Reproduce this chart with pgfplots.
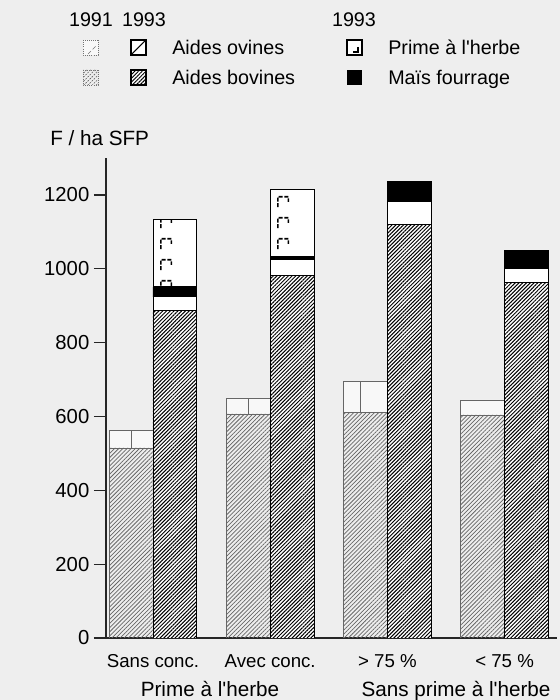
\documentclass[border=0pt]{standalone}
\usepackage{pgfplots}
\pgfplotsset{compat=1.18}
\usepackage{fontspec}
\setmainfont{Liberation Sans}[Ligatures=TeXOff]
\usetikzlibrary{patterns.meta}
\definecolor{bg}{HTML}{EEEEEE}
\newcommand\px[1]{#1*0.75pt}
\newcommand\py[1]{525pt-#1*0.75pt}
\tikzdeclarepattern{
  name=bracket,
  type=uncolored,
  bounding box={(0pt,0pt) and (88.1pt,16pt)},
  tile size={(88.1pt,16pt)},
  code={\draw[line width=1.2pt, dash pattern=on 3pt off 1.3pt] (33pt,3pt) -- (33pt,11pt) -- (41pt,11pt) -- (41pt,7pt);}
}
\pgfplotsset{geom/.style={
  scale only axis, width=338.25pt, height=360pt,
  anchor=south west, at={(79.5pt,46.5pt)},
  xmin=-0.401, xmax=3.447, ymin=0, ymax=1300,
}, base/.style={geom, ybar stacked, bar width=0.3745}}
\begin{document}
\begin{tikzpicture}
\path[use as bounding box, fill=bg] (0,0) rectangle (420pt,525pt);
\begin{axis}[base,
  axis x line*=bottom, axis y line*=left,
  axis line style={-, line width=0.9pt, black!85},
  ytick={0,200,...,1200}, xtick={0,1,2,3},
  xticklabels={Sans conc., Avec conc., {> 75 \%}, {< 75 \%}},
  xtick style={draw=none},
  ytick style={line width=0.9pt, black!85},
  major tick length=9pt, tick align=outside,
  yticklabel style={font=\fontsize{15.2}{18}\selectfont},
  xticklabel style={font=\fontsize{14}{17}\selectfont},
  /pgf/number format/assume math mode=true,
  /pgf/number format/1000 sep={},
  bar shift=-0.187,
]
% 1991 : aides bovines
\addplot[draw=black!60, line width=0.5pt,
  pattern={Lines[angle=45,distance=2.2pt,line width=0.55pt]}, pattern color=black!60]
  coordinates {(0,515) (1,607) (2,610) (3,604)};
% 1991 : aides ovines
\addplot[draw=black!60, line width=0.5pt, fill=white!60!bg]
  coordinates {(0,48) (1,43) (2,84) (3,41)};
\end{axis}
% dividers inside the 1991 "ovines" boxes
\begin{axis}[geom, hide axis]
\addplot[draw=none, mark=none, error bars/.cd, y dir=plus, y explicit,
  error mark=none, error bar style={black!60, line width=0.6pt}]
  coordinates {(-0.187,515) +- (0,48) (0.813,607) +- (0,43) (1.77,610) +- (0,84)};
\end{axis}
\begin{axis}[base, hide axis, bar shift=0.187]
% 1993 : aides bovines
\addplot[draw=black, line width=0.7pt, preaction={fill=white},
  pattern={Lines[angle=45,distance=2pt,line width=0.75pt]}, pattern color=black]
  coordinates {(0,886) (1,981) (2,1119) (3,962)};
% 1993 : aides ovines
\addplot[draw=black, line width=0.7pt, fill=white]
  coordinates {(0,38) (1,43) (2,63) (3,38)};
% 1993 : mais fourrage
\addplot[draw=black, line width=0.7pt, fill=black]
  coordinates {(0,27) (1,8) (2,54) (3,49)};
% 1993 : prime a l'herbe
\addplot[draw=black, line width=0.7pt, preaction={fill=white},
  pattern=bracket, pattern color=black]
  coordinates {(0,182) (1,182) (2,0) (3,0)};
\end{axis}
% y label
\node[anchor=base west, inner sep=0, font=\fontsize{15.5}{18}\selectfont] at (\px{50},\py{146}) {F / ha SFP};
% group labels
\node[anchor=base, inner sep=0, font=\fontsize{15.5}{18}\selectfont] at (\px{210},\py{697}) {Prime à l'herbe};
\node[anchor=base, inner sep=0, font=\fontsize{15.5}{18}\selectfont] at (\px{456},\py{697}) {Sans prime à l'herbe};
% legend
\begin{scope}[every node/.style={inner sep=0, font=\fontsize{14.8}{17}\selectfont}]
\node[anchor=base] at (\px{91},\py{27}) {1991};
\node[anchor=base] at (\px{144},\py{27}) {1993};
\node[anchor=base] at (\px{354},\py{27}) {1993};
\node[anchor=base west] at (\px{172},\py{55}) {Aides ovines};
\node[anchor=base west] at (\px{172},\py{85}) {Aides bovines};
\node[anchor=base west] at (\px{388},\py{55}) {Prime à l'herbe};
\node[anchor=base west] at (\px{388},\py{85}) {Maïs fourrage};
\end{scope}
\draw[black!55, densely dotted, line width=0.6pt, fill=white!60!bg] (\px{83},\py{40}) rectangle (\px{98},\py{55});
\draw[black!55, densely dashed, line width=0.5pt] (\px{88},\py{54}) -- (\px{96},\py{46});
\draw[black!55, densely dotted, line width=0.6pt, pattern={Lines[angle=45,distance=2.2pt,line width=0.55pt]}, pattern color=black!60] (\px{83},\py{70}) rectangle (\px{98},\py{85});
\draw[black, line width=0.8pt, fill=white] (\px{131},\py{40}) rectangle (\px{146},\py{55});
\draw[black, line width=0.8pt] (\px{131},\py{55}) -- (\px{146},\py{40});
\draw[black, line width=0.8pt, preaction={fill=white}, pattern={Lines[angle=45,distance=2pt,line width=0.75pt]}, pattern color=black] (\px{131},\py{70}) rectangle (\px{146},\py{85});
\draw[black, line width=0.8pt, fill=white] (\px{347},\py{40}) rectangle (\px{362},\py{55});
\draw[black, line width=0.9pt] (\px{358},\py{47}) -- (\px{358},\py{52}) -- (\px{353},\py{52});
\fill[black] (\px{347},\py{70}) rectangle (\px{362},\py{85});
\end{tikzpicture}
\end{document}
